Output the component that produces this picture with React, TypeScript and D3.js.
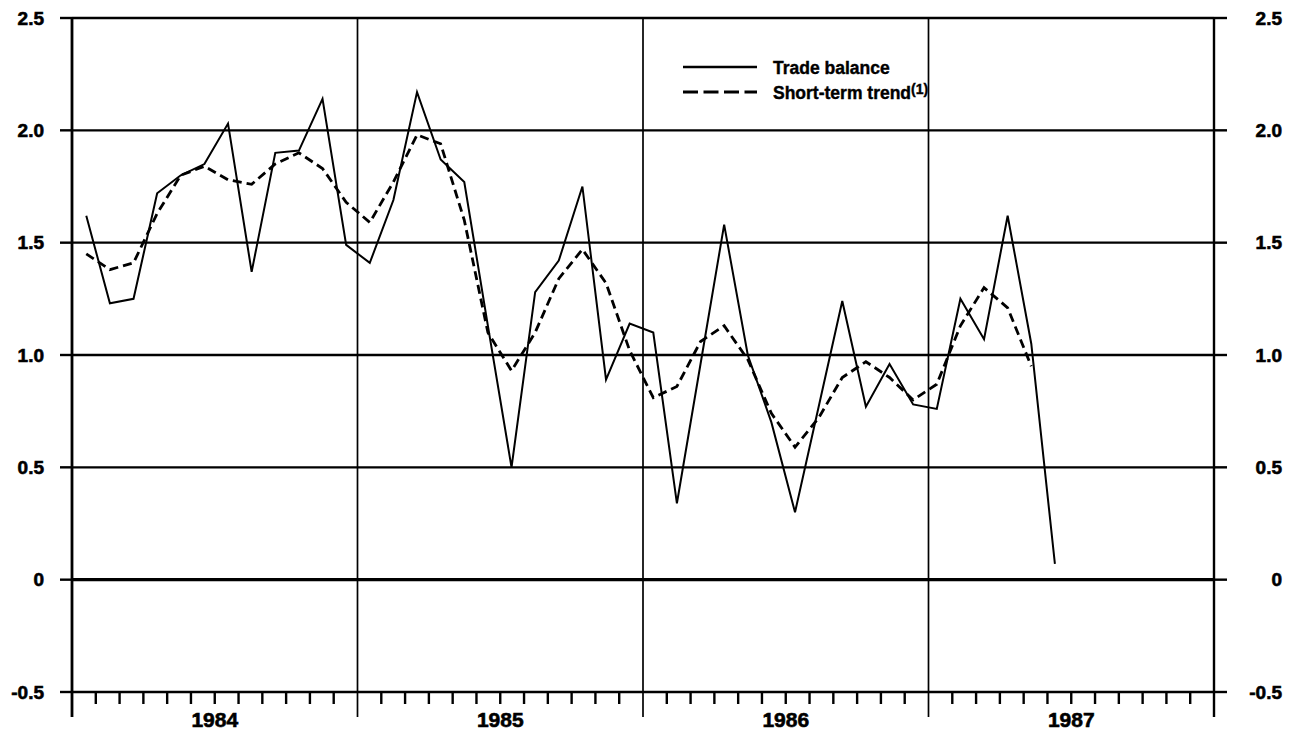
import React from "react";
import * as d3 from "d3";

const years = ["1984", "1985", "1986", "1987"];
const yTicks = [-0.5, 0, 0.5, 1.0, 1.5, 2.0, 2.5];
const yTickLabels = ["-0.5", "0", "0.5", "1.0", "1.5", "2.0", "2.5"];

// Monthly, Jan 1984 onwards
const tradeBalance = [
  1.62, 1.23, 1.25, 1.72, 1.8, 1.85, 2.03, 1.37, 1.9, 1.91, 2.14, 1.49,
  1.41, 1.69, 2.17, 1.87, 1.77, 1.13, 0.5, 1.28, 1.42, 1.75, 0.89, 1.14,
  1.1, 0.34, 0.96, 1.58, 1.0, 0.7, 0.3, 0.77, 1.24, 0.77, 0.96, 0.78,
  0.76, 1.25, 1.07, 1.62, 1.05, 0.07,
];
const shortTermTrend = [
  1.45, 1.38, 1.41, 1.63, 1.8, 1.84, 1.78, 1.76, 1.85, 1.9, 1.83, 1.68,
  1.59, 1.77, 1.98, 1.94, 1.6, 1.1, 0.93, 1.1, 1.34, 1.47, 1.32, 1.02,
  0.81, 0.86, 1.06, 1.13, 0.98, 0.74, 0.59, 0.72, 0.9, 0.97, 0.9, 0.8,
  0.87, 1.13, 1.3, 1.21, 0.95,
];

const W = 1297;
const H = 731;
const left = 72;
const right = 1214;
const top = 18;
const bottom = 692;
const font = "'Liberation Sans', Arial, Helvetica, sans-serif";

export default function App() {
  const nMonths = years.length * 12;
  const x = d3.scaleLinear().domain([0, nMonths]).range([left, right]);
  const y = d3.scaleLinear().domain([-0.5, 2.5]).range([bottom, top]);
  const off = 0.6;
  const step = 0.993;

  const line = d3
    .line<number>()
    .x((_, i) => x(i * step + off))
    .y((d) => y(d));

  const monthTicks = d3.range(1, nMonths).filter((m) => m % 12 !== 0);
  const yearBounds = d3.range(0, nMonths + 1, 12);

  return (
    <svg
      width={W}
      height={H}
      style={{ position: "absolute", left: 0, top: 0, background: "#fff" }}
    >
      <rect x={0} y={0} width={W} height={H} fill="#fff" />
      {/* horizontal grid */}
      {yTicks.map((t) => (
        <line
          key={"h" + t}
          x1={left}
          x2={right}
          y1={y(t)}
          y2={y(t)}
          stroke="#000"
          strokeWidth={t === 0 ? 3.4 : 2.4}
        />
      ))}
      {/* y tick marks */}
      {yTicks.map((t) => (
        <g key={"yt" + t}>
          <line x1={left - 12} x2={left} y1={y(t)} y2={y(t)} stroke="#000" strokeWidth={2.4} />
          <line x1={right} x2={right + 13} y1={y(t)} y2={y(t)} stroke="#000" strokeWidth={2.4} />
        </g>
      ))}
      {/* year boundaries */}
      {yearBounds.map((m) => (
        <line
          key={"v" + m}
          x1={x(m)}
          x2={x(m)}
          y1={top}
          y2={717}
          stroke="#000"
          strokeWidth={m === 0 ? 2.8 : m === nMonths ? 2.4 : 1.7}
        />
      ))}
      {/* month ticks */}
      {monthTicks.map((m) => (
        <line
          key={"m" + m}
          x1={x(m)}
          x2={x(m)}
          y1={bottom}
          y2={bottom + 12}
          stroke="#000"
          strokeWidth={2.4}
        />
      ))}
      {/* y labels */}
      {yTicks.map((t, i) => (
        <g
          key={"yl" + t}
          fontFamily={font}
          fontWeight="bold"
          fontSize={19}
          stroke="#000"
          strokeWidth={0.6}
        >
          <text x={44} y={y(t) + 6.5} textAnchor="end">
            {yTickLabels[i]}
          </text>
          <text x={1282} y={y(t) + 6.5} textAnchor="end">
            {yTickLabels[i]}
          </text>
        </g>
      ))}
      {/* year labels */}
      {years.map((yr, i) => (
        <text
          key={yr}
          x={x(i * 12 + 6)}
          y={727}
          textAnchor="middle"
          fontFamily={font}
          fontWeight="bold"
          fontSize={21}
          stroke="#000"
          strokeWidth={0.6}
        >
          {yr}
        </text>
      ))}
      {/* series */}
      <path d={line(tradeBalance) || ""} fill="none" stroke="#000" strokeWidth={2} strokeLinejoin="miter" />
      <path
        d={line(shortTermTrend) || ""}
        fill="none"
        stroke="#000"
        strokeWidth={2.8}
        strokeDasharray="9 5"
      />
      {/* legend */}
      <g fontFamily={font} fontWeight="bold" fontSize={17.5} stroke="#000" strokeWidth={0.4}>
        <line x1={683} x2={757} y1={67} y2={67} stroke="#000" strokeWidth={2.4} />
        <text x={773} y={74}>Trade balance</text>
        <line x1={683} x2={757} y1={92} y2={92} stroke="#000" strokeWidth={3.2} strokeDasharray="15 5.5" />
        <text x={773} y={99}>
          Short-term trend
          <tspan fontSize={14} dy={-5}>(1)</tspan>
        </text>
      </g>
    </svg>
  );
}
